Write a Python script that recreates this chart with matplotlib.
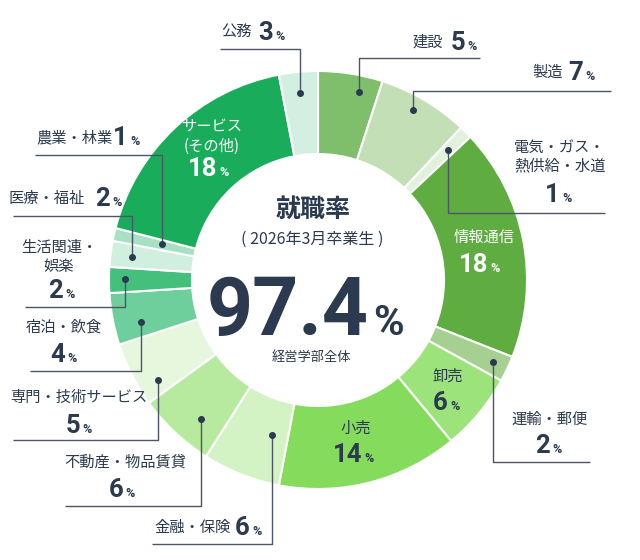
import matplotlib
matplotlib.use('Agg')
import matplotlib.pyplot as plt

plt.rcParams['font.family'] = ['Noto Sans CJK JP', 'DejaVu Sans']

# data (clockwise from 12 o'clock)
industries = ['建設', '製造', '電気・ガス・\n熱供給・水道', '情報通信', '運輸・郵便', '卸売', '小売',
              '金融・保険', '不動産・物品賃貸', '専門・技術サービス', '宿泊・飲食', '生活関連・\n娯楽',
              '医療・福祉', '農業・林業', 'サービス\n(その他)', '公務']
shares = [5, 7, 1, 18, 2, 6, 14, 6, 6, 5, 4, 2, 2, 1, 18, 3]
colors = ['#7fbf6b', '#c2dfb5', '#e1f1dc', '#5fac41', '#a6d091', '#9de37c', '#85dc5c',
          '#d4f3c5', '#b7e99e', '#e6f7de', '#6ecf9c', '#44c07c', '#d1efdf', '#a7e0c3',
          '#19ad5b', '#d2efe1']
rate = 97.4
title = '就職率'
subtitle = '( 2026年3月卒業生 )'
scope = '経営学部全体'

W, H = 640, 560
TXT = '#2b3a4e'
LINE = '#4b5565'
NUM_FONT = ['Roboto', 'DejaVu Sans']


def Y(y):
    return H - y


fig = plt.figure(figsize=(6.4, 5.6), dpi=100)
ax = fig.add_axes([0, 0, 1, 1])

ax.pie(shares, colors=colors, startangle=90, counterclock=False,
       radius=209, center=(318, Y(280)),
       wedgeprops=dict(width=83, edgecolor='white', linewidth=1.5))

ax.set_xlim(0, W)
ax.set_ylim(0, H)
ax.set_aspect('equal')
ax.axis('off')

# label layout: name anchor (ha), number (right edge, baseline), text colour, leader path
layout = {
    0: dict(name=(443, 42), ha='right', num=(465, 50), path=[(359, 92), (359, 58), (480, 58)]),
    1: dict(name=(563, 72), ha='right', num=(583, 80), path=[(413, 110), (413, 91), (611, 91)]),
    2: dict(name=(560, 147), num=(560, 202), path=[(448, 150), (448, 213), (605, 213)]),
    3: dict(name=(484, 237), num=(488, 272), color='white'),
    4: dict(name=(550, 419), num=(550, 453), path=[(493, 362), (493, 462), (590, 462)]),
    5: dict(name=(448, 376), num=(448, 410)),
    6: dict(name=(356, 428), num=(362, 462)),
    7: dict(name=(231, 527), ha='right', num=(250, 535), path=[(272, 435), (272, 544), (152, 544)]),
    8: dict(name=(125, 462), num=(123, 497), path=[(201, 419), (201, 506), (65, 506)]),
    9: dict(name=(79, 397), num=(80, 433), path=[(158, 380), (158, 440), (13, 440)]),
    10: dict(name=(64, 327), num=(65, 362), path=[(141, 322), (141, 371), (30, 371)]),
    11: dict(name=(59, 247), num=(63, 298), path=[(125, 279), (125, 307), (25, 307)]),
    12: dict(name=(85, 198), ha='right', num=(110, 206), path=[(132, 257), (132, 216), (13, 216)]),
    13: dict(name=(113, 138), ha='right', num=(128, 145), path=[(162, 244), (162, 155), (35, 155)]),
    14: dict(name=(212, 127), num=(217, 176), color='white'),
    15: dict(name=(252, 31), ha='right', num=(273, 40), path=[(300, 93), (300, 49), (220, 49)]),
}

for i, name in enumerate(industries):
    lay = layout[i]
    col = lay.get('color', TXT)
    nx, ny = lay['name']
    for k, line in enumerate(name.split('\n')):
        ax.text(nx, Y(ny + k * 19), line, ha=lay.get('ha', 'center'), va='center',
                fontsize=11, color=col, zorder=5)
    px, py = lay['num']
    ax.text(px, Y(py), str(shares[i]), ha='right', va='baseline',
            fontsize=18.5, fontweight='bold', color=col, family=NUM_FONT, zorder=5)
    ax.text(px + 2, Y(py), '%', ha='left', va='baseline',
            fontsize=9, fontweight='bold', color=col, family=NUM_FONT, zorder=5)
    if 'path' in lay:
        xs = [p[0] for p in lay['path']]
        ys = [Y(p[1]) for p in lay['path']]
        ax.plot(xs, ys, color=LINE, lw=1.0, zorder=4, solid_capstyle='butt')
        ax.plot(xs[0], ys[0], 'o', color=TXT, markersize=4, zorder=4)

# centre text
ax.text(313, Y(210), title, ha='center', va='center', fontsize=18,
        fontweight='bold', color=TXT)
ax.text(312, Y(239), subtitle, ha='center', va='center', fontsize=11.5, color=TXT)
ax.text(369, Y(335), f'{rate}', ha='right', va='baseline', fontsize=58,
        fontweight='bold', color=TXT, family=NUM_FONT)
ax.text(373, Y(335), '%', ha='left', va='baseline', fontsize=30,
        fontweight='bold', color=TXT, family=NUM_FONT)
ax.text(311, Y(357), scope, ha='center', va='center', fontsize=9.5, color=TXT)

fig.savefig('out.png', dpi=100, facecolor='white')
